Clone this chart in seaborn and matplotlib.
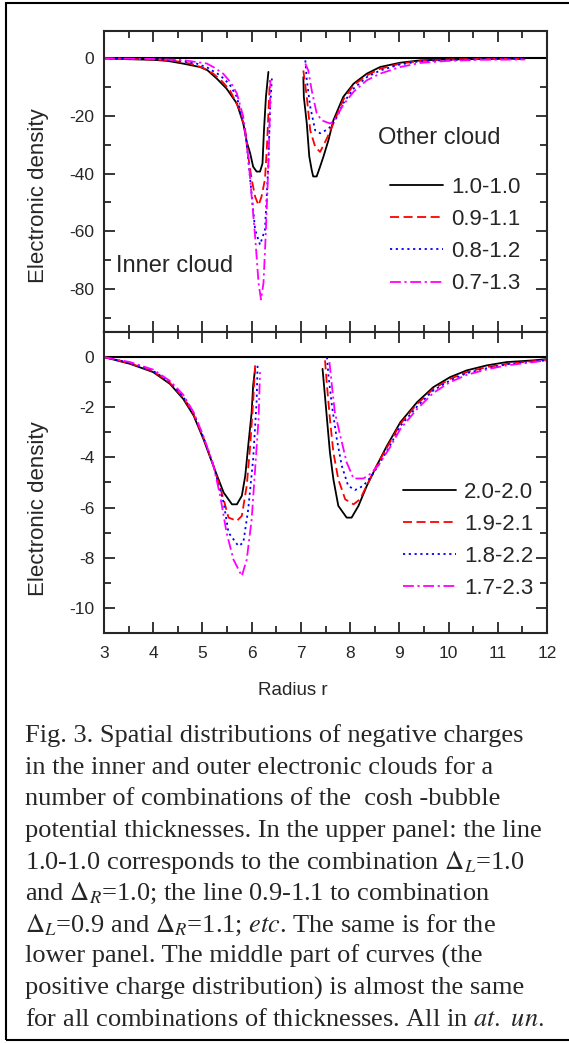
import numpy as np
import pandas as pd
import matplotlib.pyplot as plt
import matplotlib.patches as patches
from matplotlib.ticker import MultipleLocator
import seaborn as sns

labels_top = ['1.0-1.0', '0.9-1.1', '0.8-1.2', '0.7-1.3']
labels_bot = ['2.0-2.0', '1.9-2.1', '1.8-2.2', '1.7-2.3']

# upper panel, inner cloud
top_in_x_a = [3.0, 3.5, 4.0, 4.3, 4.6, 4.95, 5.1, 5.29, 5.49, 5.70, 5.83, 5.90, 5.97, 6.03, 6.10, 6.17, 6.22, 6.25, 6.29, 6.34]
top_in_y_a = [0, -0.3, -0.5, -0.9, -1.8, -3.0, -4.1, -7.0, -10.5, -15.7, -22.6, -29, -33, -37.6, -39.3, -39.3, -36.5, -25, -13.4, -4.7]
top_in_x_b = [3.0, 3.5, 4.0, 4.4, 4.75, 5.0, 5.22, 5.4, 5.56, 5.76, 5.87, 5.93, 6.0, 6.07, 6.14, 6.2, 6.27, 6.31, 6.34, 6.37]
top_in_y_b = [0, -0.2, -0.4, -0.8, -1.8, -3.2, -5.3, -8.0, -11.1, -18, -25, -34, -42, -48, -51, -48, -42, -30.7, -19, -7.6]
top_in_x_c = [3.0, 3.5, 4.0, 4.5, 4.88, 5.1, 5.36, 5.55, 5.70, 5.87, 5.97, 6.07, 6.17, 6.27, 6.34, 6.37, 6.41]
top_in_y_c = [0, -0.2, -0.3, -0.7, -1.8, -3.2, -5.9, -9.0, -13.4, -25, -42, -59.5, -64.7, -59.5, -36.5, -19, -7]
top_in_x_d = [3.0, 3.5, 4.0, 4.6, 5.09, 5.25, 5.42, 5.58, 5.70, 5.83, 5.93, 6.0, 6.07, 6.14, 6.19, 6.24, 6.29, 6.34, 6.37, 6.38]
top_in_y_d = [0, -0.1, -0.2, -0.6, -1.8, -3.3, -5.3, -8.5, -12.2, -20.3, -34, -48, -61.8, -78, -83.7, -78, -59.5, -36.5, -19, -7.6]

# upper panel, outer cloud
top_out_x_a = [7.05, 7.06, 7.12, 7.17, 7.22, 7.25, 7.32, 7.39, 7.46, 7.56, 7.66, 7.86, 8.07, 8.34, 8.61, 9.02, 9.42, 9.96, 10.64, 11.55]
top_out_y_a = [-6.5, -13.4, -22.6, -34, -38.8, -41, -41, -37.6, -34, -28.4, -21.5, -13.4, -8.8, -5.3, -3.0, -1.5, -0.7, -0.4, -0.2, -0.1]
top_out_x_b = [7.05, 7.12, 7.19, 7.29, 7.39, 7.53, 7.66, 7.86, 8.07, 8.34, 8.61, 9.02, 9.42, 9.96, 10.64, 11.55]
top_out_y_b = [-4.2, -13.4, -25, -30.7, -32.5, -27.7, -22.6, -14.4, -9.3, -5.9, -3.6, -1.8, -0.9, -0.4, -0.2, -0.1]
top_out_x_c = [7.09, 7.12, 7.19, 7.29, 7.39, 7.56, 7.70, 7.86, 8.07, 8.34, 8.61, 9.02, 9.42, 9.96, 10.64, 11.55]
top_out_y_c = [-0.7, -7.5, -16.8, -25, -26, -24.5, -21.5, -15.6, -10.5, -6.5, -4.2, -2.1, -1.0, -0.6, -0.3, -0.1]
top_out_x_d = [7.09, 7.15, 7.22, 7.32, 7.42, 7.59, 7.66, 7.86, 8.07, 8.34, 8.61, 9.02, 9.42, 9.96, 10.64, 11.55]
top_out_y_d = [-1.8, -4.2, -11.1, -19, -21.5, -22.6, -22, -16.2, -11.6, -7.6, -5.3, -3.0, -1.6, -0.9, -0.5, -0.4]

# lower panel, inner cloud
bot_in_x_a = [3.0, 3.53, 4.0, 4.34, 4.61, 4.82, 5.02, 5.22, 5.43, 5.6, 5.7, 5.8, 5.87, 5.93, 6.0, 6.03, 6.07]
bot_in_y_a = [0, -0.27, -0.6, -1.07, -1.67, -2.33, -3.27, -4.33, -5.4, -5.87, -5.87, -5.53, -4.73, -3.53, -2.2, -1.13, -0.47]
bot_in_x_b = [3.0, 3.53, 4.0, 4.34, 4.61, 4.82, 5.02, 5.22, 5.43, 5.53, 5.7, 5.8, 5.9, 5.97, 6.03, 6.07]
bot_in_y_b = [0, -0.25, -0.57, -1.03, -1.62, -2.28, -3.22, -4.3, -5.67, -6.4, -6.53, -6.33, -5.13, -3.53, -1.8, -0.33]
bot_in_x_c = [3.0, 3.53, 4.0, 4.34, 4.61, 4.82, 5.02, 5.22, 5.43, 5.53, 5.73, 5.83, 5.93, 6.03, 6.1, 6.12]
bot_in_y_c = [0, -0.23, -0.55, -1.0, -1.58, -2.25, -3.2, -4.3, -5.8, -7.0, -7.53, -7.4, -6.07, -4.07, -1.8, -0.33]
bot_in_x_d = [3.0, 3.53, 4.0, 4.34, 4.61, 4.82, 5.02, 5.22, 5.36, 5.49, 5.63, 5.8, 5.9, 6.0, 6.07, 6.14, 6.17]
bot_in_y_d = [0, -0.2, -0.5, -0.95, -1.5, -2.2, -3.15, -4.3, -5.53, -7.0, -8.07, -8.73, -8.07, -6.47, -4.47, -2.47, -0.6]

# lower panel, outer cloud
bot_out_x_a = [7.44, 7.47, 7.53, 7.59, 7.66, 7.76, 7.93, 8.03, 8.17, 8.34, 8.54, 8.75, 9.02, 9.36, 9.69, 10.03, 10.37, 10.78, 11.18, 11.73, 12.0]
bot_out_y_a = [-0.47, -1.13, -2.47, -3.8, -4.87, -5.93, -6.4, -6.4, -5.93, -5.13, -4.33, -3.53, -2.6, -1.8, -1.2, -0.8, -0.53, -0.33, -0.2, -0.13, -0.08]
bot_out_x_b = [7.49, 7.53, 7.59, 7.66, 7.76, 7.9, 8.07, 8.2, 8.37, 8.54, 8.75, 9.02, 9.36, 9.69, 10.03, 10.37, 10.78, 11.18, 11.73, 12.0]
bot_out_y_b = [-0.13, -1.13, -2.47, -3.8, -4.87, -5.67, -5.87, -5.67, -5.0, -4.33, -3.6, -2.67, -1.87, -1.27, -0.87, -0.6, -0.4, -0.27, -0.16, -0.1]
bot_out_x_c = [7.53, 7.56, 7.63, 7.73, 7.83, 7.96, 8.1, 8.27, 8.44, 8.61, 8.81, 9.02, 9.36, 9.69, 10.03, 10.37, 10.78, 11.18, 11.73, 12.0]
bot_out_y_c = [0, -0.73, -1.93, -3.27, -4.33, -5.13, -5.3, -5.13, -4.73, -4.2, -3.53, -2.75, -1.97, -1.33, -0.93, -0.64, -0.44, -0.29, -0.17, -0.13]
bot_out_x_d = [7.58, 7.63, 7.69, 7.8, 7.93, 8.07, 8.27, 8.4, 8.57, 8.81, 9.02, 9.36, 9.69, 10.03, 10.37, 10.78, 11.18, 11.73, 12.0]
bot_out_y_d = [-0.2, -1.13, -2.2, -3.13, -4.2, -4.84, -4.84, -4.67, -4.33, -3.6, -2.87, -2.07, -1.43, -1.0, -0.71, -0.49, -0.33, -0.2, -0.13]

caption = [
    "Fig. 3. Spatial distributions of negative charges",
    "in the inner and outer electronic clouds for a",
    "number of combinations of the  cosh -bubble",
    "potential thicknesses. In the upper panel: the line",
    r"1.0-1.0 corresponds to the combination $\Delta_L$=1.0",
    r"and $\Delta_R$=1.0; the line 0.9-1.1 to combination",
    r"$\Delta_L$=0.9 and $\Delta_R$=1.1; $\mathit{etc}$. The same is for the",
    "lower panel. The middle part of curves (the",
    "positive charge distribution) is almost the same",
    r"for all combinations of thicknesses. All in $\mathit{at.}$ $\mathit{un.}$",
]

colors = ['black', 'red', 'blue', 'magenta']
dashes = [(None, None), (5, 2.5), (1.2, 2.0), (6, 2, 1.2, 2)]

sns.set_style('ticks')
plt.rcParams['font.family'] = ['Liberation Sans', 'DejaVu Sans']
plt.rcParams['mathtext.fontset'] = 'stix'
plt.rcParams['axes.unicode_minus'] = False

fig = plt.figure(figsize=(5.69, 10.43), dpi=100)
ax1 = fig.add_axes([104/569, 1-332/1043, 443/569, 301/1043])
ax2 = fig.add_axes([104/569, 1-633/1043, 443/569, 301/1043])

top_segs = [[(top_in_x_a, top_in_y_a), (top_out_x_a, top_out_y_a)],
            [(top_in_x_b, top_in_y_b), (top_out_x_b, top_out_y_b)],
            [(top_in_x_c, top_in_y_c), (top_out_x_c, top_out_y_c)],
            [(top_in_x_d, top_in_y_d), (top_out_x_d, top_out_y_d)]]
bot_segs = [[(bot_in_x_a, bot_in_y_a), (bot_out_x_a, bot_out_y_a)],
            [(bot_in_x_b, bot_in_y_b), (bot_out_x_b, bot_out_y_b)],
            [(bot_in_x_c, bot_in_y_c), (bot_out_x_c, bot_out_y_c)],
            [(bot_in_x_d, bot_in_y_d), (bot_out_x_d, bot_out_y_d)]]


def draw(ax, segs, labels):
    ax.axhline(0, color='black', lw=1.5, zorder=1)
    for i in range(4):
        for j, (xs, ys) in enumerate(segs[i]):
            line_kw = dict(color=colors[i], lw=1.3)
            if i == 0:
                line_kw['linestyle'] = '-'
            else:
                line_kw['dashes'] = dashes[i]
            sns.lineplot(x=xs, y=ys, ax=ax, estimator=None, sort=False,
                         label=labels[i] if j == 0 else None, legend=False, **line_kw)
    ax.set_xlim(3, 12)
    ax.xaxis.set_major_locator(MultipleLocator(1))
    ax.xaxis.set_minor_locator(MultipleLocator(0.5))
    ax.tick_params(which='both', direction='in', top=True, right=True, width=1.3)
    ax.tick_params(which='major', length=8, labelsize=12.5, pad=7)
    ax.tick_params(which='minor', length=5)
    for s in ax.spines.values():
        s.set_linewidth(1.5)
    ax.set_ylabel('Electronic density', fontsize=16)
    h, l = ax.get_legend_handles_labels()
    return h, l


h1, l1 = draw(ax1, top_segs, labels_top)
ax1.set_ylim(-95, 9.5)
ax1.yaxis.set_major_locator(MultipleLocator(20))
ax1.yaxis.set_minor_locator(MultipleLocator(10))
ax1.tick_params(axis='x', labelbottom=False)
ax1.set_xlabel('')
ax1.yaxis.set_label_coords(-0.124, 0.452)
ax1.text(3.24, -72, 'Inner cloud', fontsize=17, ha='left', va='center')
ax1.text(8.57, -27.7, 'Other cloud', fontsize=17, ha='left', va='center')
ax1.legend(h1, l1, loc='upper left', bbox_to_anchor=(0.6456, 0.515), frameon=False,
           fontsize=16, handlelength=2.4, handletextpad=0.35, labelspacing=0.5,
           borderpad=0, borderaxespad=0)

h2, l2 = draw(ax2, bot_segs, labels_bot)
ax2.set_ylim(-11, 1)
ax2.yaxis.set_major_locator(MultipleLocator(2))
ax2.yaxis.set_minor_locator(MultipleLocator(1))
ax2.tick_params(axis='x', pad=9)
ax2.set_xlabel('Radius r', fontsize=13.5)
ax2.xaxis.set_label_coords(0.4255, -0.163)
ax2.yaxis.set_label_coords(-0.124, 0.412)
ax2.legend(h2, l2, loc='upper left', bbox_to_anchor=(0.675, 0.502), frameon=False,
           fontsize=16, handlelength=2.4, handletextpad=0.35, labelspacing=0.5,
           borderpad=0, borderaxespad=0)

for k, line in enumerate(caption):
    fig.text(25/569, 1 - (736 + 31.5*k)/1043, line, fontsize=19, ha='left', va='center',
             family=['Liberation Serif', 'DejaVu Serif'])

frame = patches.Rectangle((5.5/569, 1 - 1040/1043), 1.2, (1040-3)/1043, transform=fig.transFigure,
                          fill=False, lw=1.5, edgecolor='black', clip_on=False)
fig.patches.append(frame)

fig.savefig('out.png', dpi=100)
